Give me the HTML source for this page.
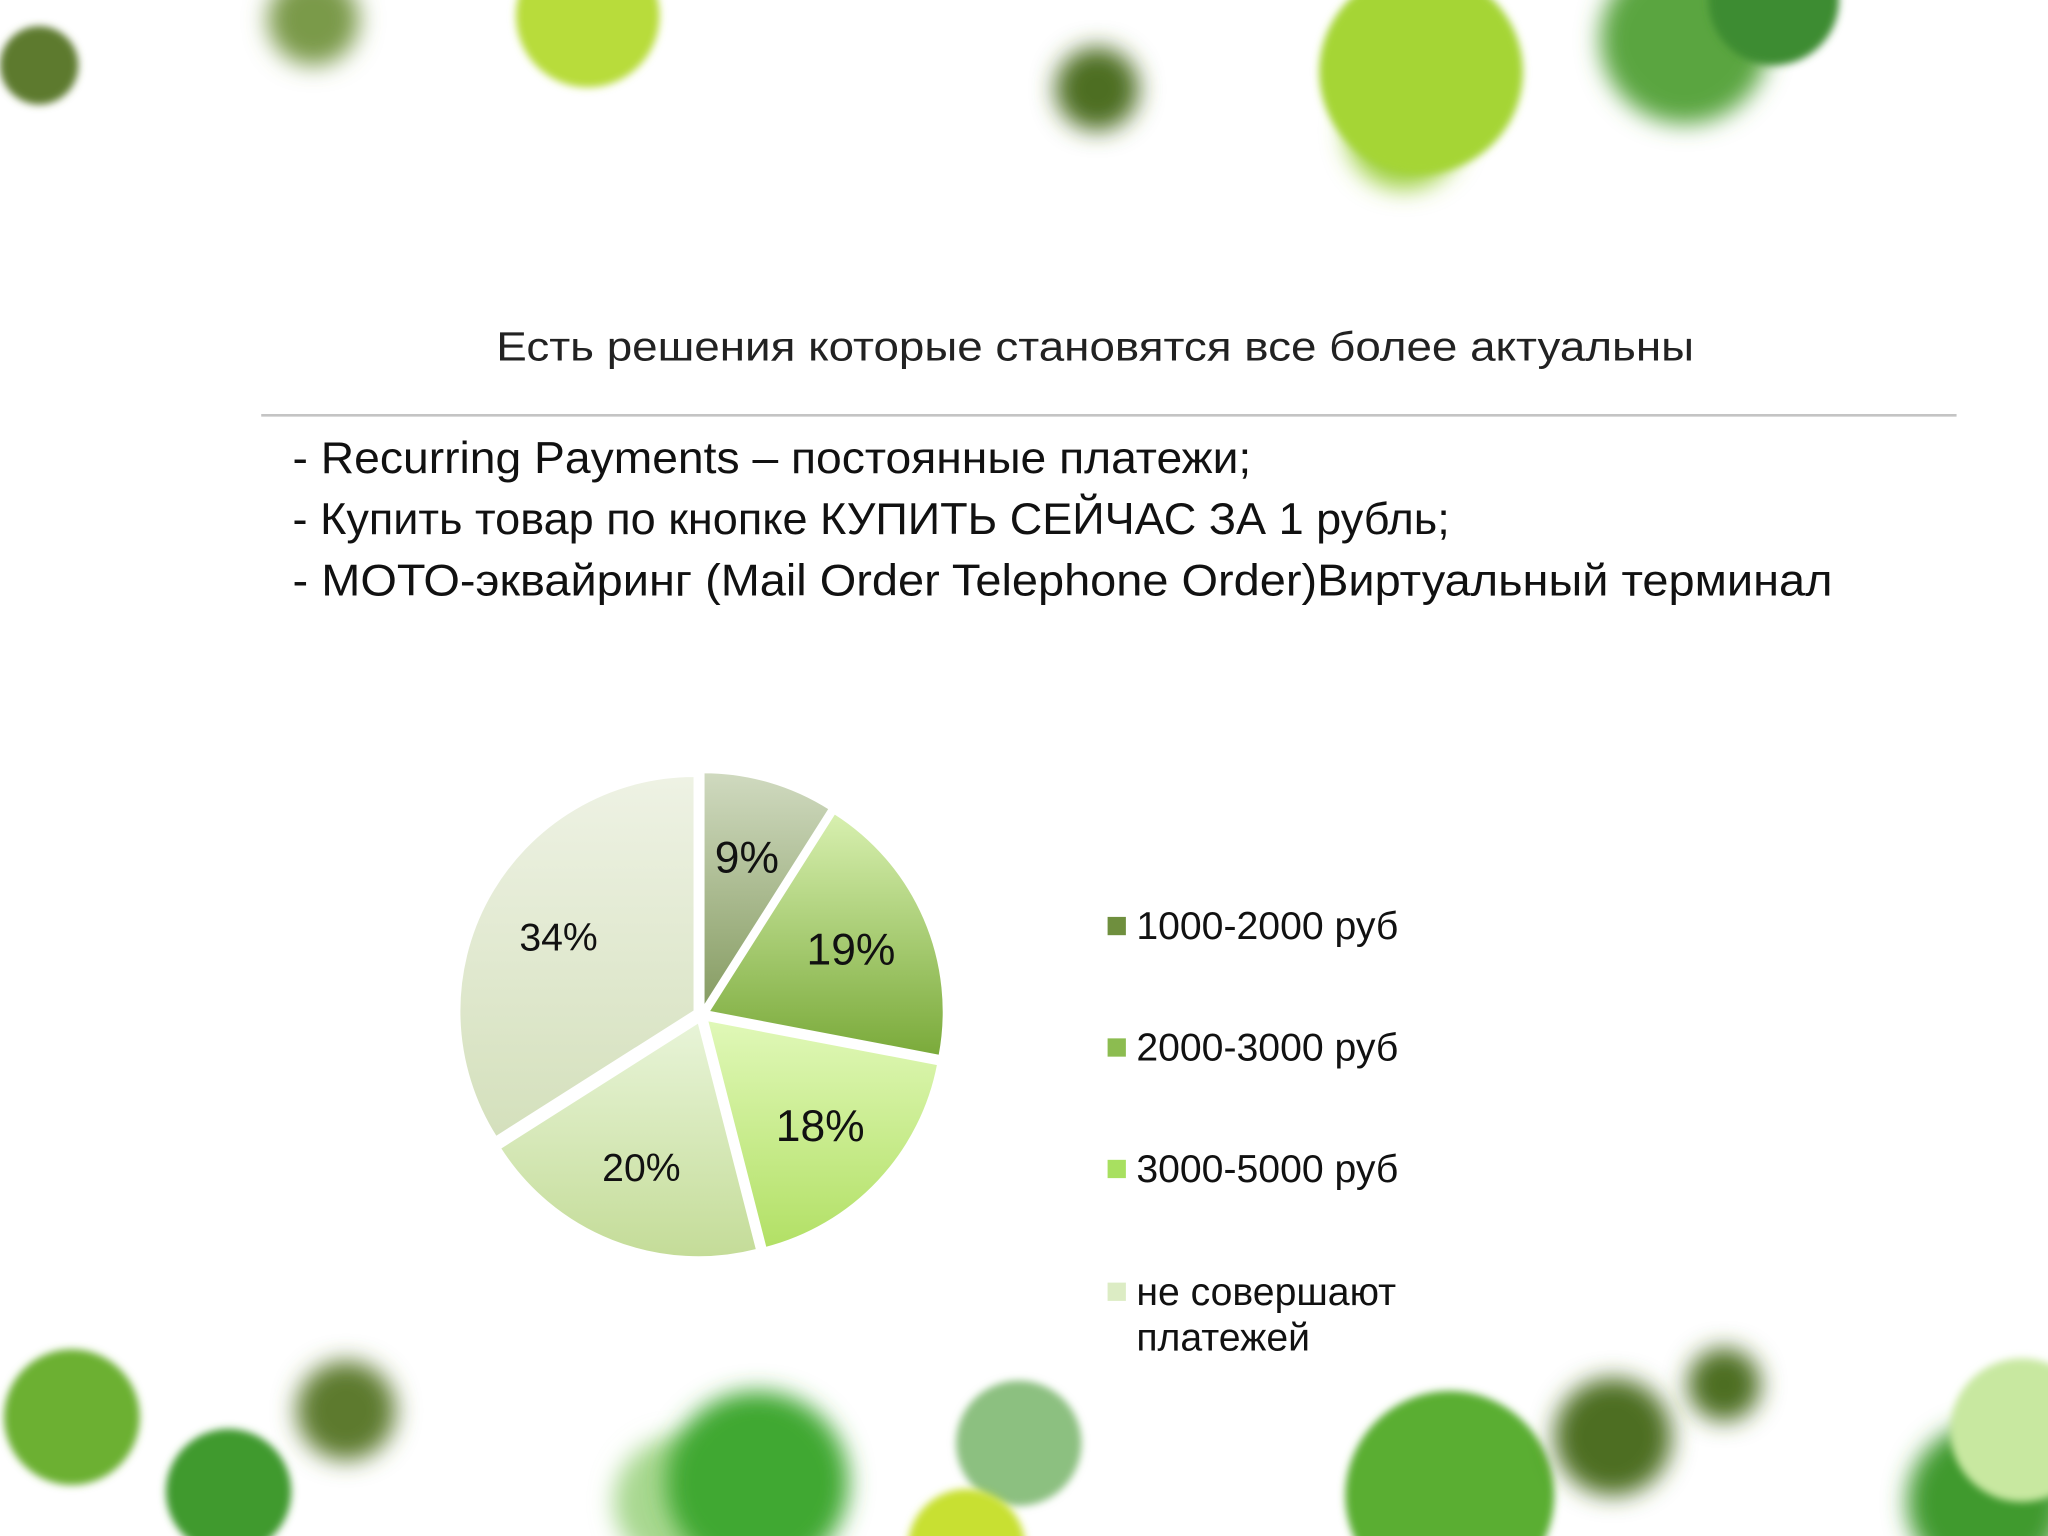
<!DOCTYPE html>
<html><head><meta charset="utf-8"><style>
html,body{margin:0;padding:0;background:#fff;}
svg{display:block;}
</style></head><body>
<svg id="chart" width="2048" height="1536" viewBox="0 0 1568 1176" xmlns="http://www.w3.org/2000/svg">
<defs>
<filter id="b1" x="-50%" y="-50%" width="200%" height="200%"><feGaussianBlur stdDeviation="3"/></filter>
<filter id="b2" x="-50%" y="-50%" width="200%" height="200%"><feGaussianBlur stdDeviation="9"/></filter>
<linearGradient id="g0" x1="0" y1="1" x2="0" y2="0"><stop offset="0" stop-color="#869c62"/><stop offset="1" stop-color="#d0dac0"/></linearGradient>
<linearGradient id="g1" x1="0" y1="1" x2="0" y2="0"><stop offset="0" stop-color="#7aaa3a"/><stop offset="1" stop-color="#d8f0b0"/></linearGradient>
<linearGradient id="g2" x1="0" y1="1" x2="0" y2="0"><stop offset="0" stop-color="#b2e065"/><stop offset="1" stop-color="#e0f8b8"/></linearGradient>
<linearGradient id="g3" x1="0" y1="1" x2="0" y2="0"><stop offset="0" stop-color="#c4dc98"/><stop offset="1" stop-color="#e8f4d8"/></linearGradient>
<linearGradient id="g4" x1="0" y1="1" x2="0" y2="0"><stop offset="0" stop-color="#d4e0bc"/><stop offset="1" stop-color="#eef2e4"/></linearGradient>
</defs>
<g>
<circle cx="30" cy="50" r="30" fill="#5d7a2e" filter="url(#b1)"/>
<circle cx="450" cy="12" r="55" fill="#b8dc3a" filter="url(#b1)"/>
<circle cx="240" cy="15" r="35" fill="#7a9a4a" filter="url(#b2)"/>
<circle cx="840" cy="68" r="32" fill="#4e6e20" filter="url(#b2)"/>
<circle cx="1075" cy="100" r="45" fill="#9fd040" filter="url(#b2)"/>
<circle cx="1088" cy="55" r="78" fill="#a5d535" filter="url(#b1)"/>
<circle cx="1290" cy="30" r="65" fill="#5aa540" filter="url(#b2)"/>
<circle cx="1358" cy="0" r="50" fill="#3e8c30" filter="url(#b1)"/>
<circle cx="55" cy="1085" r="52" fill="#6cb032" filter="url(#b1)"/>
<circle cx="175" cy="1142" r="48" fill="#3f9a2e" filter="url(#b1)"/>
<circle cx="265" cy="1080" r="38" fill="#5d7a2e" filter="url(#b2)"/>
<circle cx="520" cy="1150" r="50" fill="#a8d890" filter="url(#b2)"/>
<circle cx="580" cy="1135" r="70" fill="#40a830" filter="url(#b2)"/>
<circle cx="780" cy="1105" r="48" fill="#8cc080" filter="url(#b1)"/>
<circle cx="740" cy="1185" r="45" fill="#c8e030" filter="url(#b1)"/>
<circle cx="1110" cy="1145" r="80" fill="#5aae30" filter="url(#b1)"/>
<circle cx="1235" cy="1100" r="45" fill="#4e6e20" filter="url(#b2)"/>
<circle cx="1320" cy="1060" r="28" fill="#4e6e20" filter="url(#b2)"/>
<circle cx="1520" cy="1150" r="60" fill="#3f9a2e" filter="url(#b2)"/>
<circle cx="1548" cy="1095" r="55" fill="#c8e8a0" filter="url(#b1)"/>
</g>
<text x="380" y="276" font-family="Liberation Sans, sans-serif" font-size="31" fill="#222" textLength="917" lengthAdjust="spacingAndGlyphs">Есть решения которые становятся все более актуальны</text>
<line x1="200" y1="318" x2="1498" y2="318" stroke="#c4c4c4" stroke-width="2"/>
<g font-family="Liberation Sans, sans-serif" font-size="34" fill="#111">
<text x="224" y="362" textLength="734" lengthAdjust="spacingAndGlyphs">- Recurring Payments – постоянные платежи;</text>
<text x="224" y="409" textLength="886" lengthAdjust="spacingAndGlyphs">- Купить товар по кнопке КУПИТЬ СЕЙЧАС ЗА 1 рубль;</text>
<text x="224" y="456" textLength="1179" lengthAdjust="spacingAndGlyphs">- МОТО-эквайринг (Mail Order Telephone Order)Виртуальный терминал</text>
</g>
<g id="pie"></g>
<g id="legend"></g>
</svg>
<script>
const sliceValues = [9, 19, 18, 20, 34];
const sliceLabels = ["9%", "19%", "18%", "20%", "34%"];
const legendNames = ["1000-2000 руб", "2000-3000 руб", "3000-5000 руб", "не совершают|платежей"];
const legendColors = ["#6f8f3e", "#8cbc50", "#a8e060", "#dcecc4"];
const NS = "http://www.w3.org/2000/svg";
const cx = 537, cy = 777, R = 180, EXP = 6;
const pie = document.getElementById('pie');
const total = sliceValues.reduce((a, b) => a + b, 0);
let acc = 0;
sliceValues.forEach((v, i) => {
  const a0 = acc / total * 2 * Math.PI, a1 = (acc + v) / total * 2 * Math.PI;
  acc += v;
  const am = (a0 + a1) / 2;
  const ox = cx + EXP * Math.sin(am), oy = cy - EXP * Math.cos(am);
  const p = (a, r) => [ox + r * Math.sin(a), oy - r * Math.cos(a)];
  const s = p(a0, R), e = p(a1, R);
  const large = (a1 - a0) > Math.PI ? 1 : 0;
  const path = document.createElementNS(NS, 'path');
  path.setAttribute('d', `M${ox},${oy} L${s[0]},${s[1]} A${R},${R} 0 ${large} 1 ${e[0]},${e[1]} Z`);
  path.setAttribute('fill', `url(#g${i})`);
  path.setAttribute('stroke', '#fff');
  path.setAttribute('stroke-width', '1.5');
  
  
  pie.appendChild(path);
  const lp = p(am, R * 0.66);
  const t = document.createElementNS(NS, 'text');
  t.setAttribute('x', lp[0]); t.setAttribute('y', lp[1] + 11);
  t.setAttribute('text-anchor', 'middle');
  t.setAttribute('font-family', 'Liberation Sans, sans-serif');
  t.setAttribute('font-size', i >= 3 ? '30' : '34');
  t.setAttribute('fill', '#111');
  t.textContent = sliceLabels[i];
  
  
  pie.appendChild(t);
});
const legend = document.getElementById('legend');
const legendY = [708, 801, 894, 988];
legendNames.forEach((n, i) => {
  const r = document.createElementNS(NS, 'rect');
  r.setAttribute('x', 848); r.setAttribute('y', legendY[i] - 6);
  r.setAttribute('width', 14); r.setAttribute('height', 14);
  r.setAttribute('fill', legendColors[i]);
  
  
  legend.appendChild(r);
  n.split('|').forEach((line, k) => {
    const t = document.createElementNS(NS, 'text');
    t.setAttribute('x', 870); t.setAttribute('y', legendY[i] + 11 + k * 35);
    t.setAttribute('font-family', 'Liberation Sans, sans-serif');
    t.setAttribute('font-size', '30');
    t.setAttribute('fill', '#111');
    t.textContent = line;
    
    
    legend.appendChild(t);
  });
});
</script>
</body></html>
